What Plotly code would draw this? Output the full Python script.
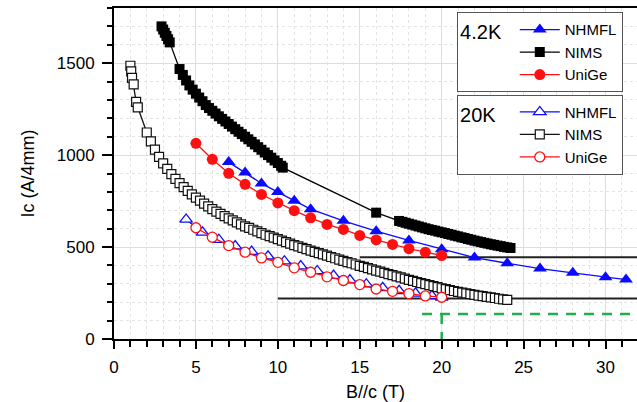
import plotly.graph_objects as go

# ---------------- data ----------------
# 4.2 K
nhmfl42_B = [7, 8, 9, 10, 11, 12, 14, 16, 18, 20, 22, 24, 26, 28, 30, 31.25]
nhmfl42_Ic = [962, 905, 846, 799, 752, 706, 643, 586, 536, 488, 443, 412, 383, 360, 336, 323]

nims42_B = [2.9, 3.0, 3.1, 3.2, 3.3, 3.4,
            4.0, 4.2, 4.4, 4.6, 4.8, 5.0, 5.2, 5.4, 5.6, 5.8, 6.0, 6.2, 6.4, 6.6, 6.8,
            7.0, 7.2, 7.4, 7.6, 7.8, 8.0, 8.2, 8.4, 8.6, 8.8, 9.0, 9.2, 9.4, 9.6, 9.8,
            10.0, 10.2, 10.3,
            16.0,
            17.4, 17.6, 17.8, 18.0, 18.2, 18.4, 18.6, 18.8, 19.0, 19.2, 19.4, 19.6, 19.8,
            20.0, 20.2, 20.4, 20.6, 20.8, 21.0, 21.2, 21.4, 21.6, 21.8, 22.0, 22.2, 22.4,
            22.6, 22.8, 23.0, 23.2, 23.4, 23.6, 23.8, 24.0, 24.2]
nims42_Ic = [1700, 1683, 1665, 1648, 1630, 1613,
             1468, 1436, 1406, 1379, 1356, 1334, 1313, 1293, 1272, 1256, 1241, 1226, 1211, 1197, 1183,
             1169, 1155, 1141, 1127, 1114, 1100, 1086, 1072, 1058, 1043, 1029, 1014, 1000, 986, 971,
             957, 942, 932,
             687,
             642, 637, 632, 627, 622, 617, 612, 607, 602, 597, 593, 589, 584,
             580, 576, 571, 567, 562, 558, 553, 549, 544, 540, 535, 531, 527,
             523, 519, 515, 512, 508, 505, 501, 498, 495]

unige42_B = [5, 6, 7, 8, 9, 10, 11, 12, 13, 14, 15, 16, 17, 18, 19, 20]
unige42_Ic = [1064, 977, 901, 841, 786, 740, 698, 659, 623, 596, 563, 539, 514, 491, 472, 454]

# 20 K
nhmfl20_B = [4.4, 5.4, 6.4, 7.4, 8.4, 9.4, 10.4, 11.4, 12.4, 13.4, 14.4, 15.4, 16.4, 17.4, 18.4, 19.4, 20.0]
nhmfl20_Ic = [650, 580, 540, 505, 475, 450, 423, 396, 370, 345, 320, 298, 278, 262, 248, 235, 226]

nims20_B = [1.0, 1.05, 1.1, 1.2, 1.35, 1.45,
            2.0, 2.25, 2.5, 2.75, 3.0, 3.25, 3.5, 3.75, 4.0, 4.25, 4.5, 4.75, 5.0, 5.25,
            5.5, 5.75, 6.0, 6.25, 6.5, 6.75, 7.0, 7.25, 7.5, 7.75, 8.0, 8.25, 8.5, 8.75,
            9.0, 9.25, 9.5, 9.75, 10.0, 10.25, 10.5, 10.75, 11.0, 11.25, 11.5, 11.75,
            12.0, 12.25, 12.5, 12.75, 13.0, 13.25, 13.5, 13.75, 14.0, 14.25, 14.5, 14.75,
            15.0, 15.25, 15.5, 15.75, 16.0, 16.25, 16.5, 16.75, 17.0, 17.25, 17.5, 17.75,
            18.0, 18.25, 18.5, 18.75, 19.0, 19.25, 19.5, 19.75, 20.0, 20.25, 20.5, 20.75,
            21.0, 21.25, 21.5, 21.75, 22.0, 22.25, 22.5, 22.75, 23.0, 23.25, 23.5, 23.75, 24.0]
nims20_Ic = [1486, 1455, 1420, 1385, 1290, 1260,
             1123, 1075, 1030, 990, 955, 925, 897, 871, 848, 826, 806, 787, 769, 752,
             736, 721, 706, 693, 680, 668, 656, 645, 634, 623, 613, 604, 594, 585,
             576, 567, 559, 551, 543, 535, 527, 519, 511, 504, 496, 489,
             481, 474, 467, 460, 453, 446, 439, 432, 425, 418, 412, 405,
             398, 392, 385, 379, 372, 366, 360, 353, 347, 341, 335, 328,
             322, 316, 310, 304, 298, 293, 287, 282, 276, 271, 266, 261,
             256, 252, 248, 244, 240, 236, 233, 229, 226, 223, 219, 216, 213]

unige20_B = [5, 6, 7, 8, 9, 10, 11, 12, 13, 14, 15, 16, 17, 18, 19, 20]
unige20_Ic = [605, 554, 508, 472, 441, 417, 387, 363, 338, 318, 296, 272, 259, 247, 234, 227]

# reference levels
level_B_start = [15, 10]
level_Ic = [445, 220]
spec_B = 20
spec_B_start = 18.8
spec_Ic = 136

x_max = 31.92
y_max = 1800

# ---------------- figure ----------------
FONT = "Arial, Liberation Sans, sans-serif"
BLUE = "#0a0aff"
RED = "#ff1010"
BLACK = "#000000"
GREEN = "#1fae50"

fig = go.Figure()

# black horizontal reference lines
for b0, ic in zip(level_B_start, level_Ic):
    fig.add_trace(go.Scatter(x=[b0, x_max + 5], y=[ic, ic], mode="lines",
                             line=dict(color="#222222", width=2), showlegend=False,
                             hoverinfo="skip"))
# green dashed lines
fig.add_trace(go.Scatter(x=[spec_B_start, x_max + 5, None, spec_B, spec_B],
                         y=[spec_Ic, spec_Ic, None, spec_Ic, 0], mode="lines",
                         line=dict(color=GREEN, width=2.5, dash="10px,8px"),
                         showlegend=False, hoverinfo="skip"))

# 20 K series (open symbols)
fig.add_trace(go.Scatter(x=nhmfl20_B, y=nhmfl20_Ic, name="NHMFL", mode="lines+markers",
                         line=dict(color=BLUE, width=1.3),
                         marker=dict(symbol="triangle-up", size=11, color="white",
                                     line=dict(color=BLUE, width=1.3)),
                         legend="legend2", legendrank=1))
fig.add_trace(go.Scatter(x=nims20_B, y=nims20_Ic, name="NIMS", mode="lines+markers",
                         line=dict(color="#111111", width=1.3),
                         marker=dict(symbol="square", size=9, color="white",
                                     line=dict(color="#111111", width=1.2)),
                         legend="legend2", legendrank=2))
fig.add_trace(go.Scatter(x=unige20_B, y=unige20_Ic, name="UniGe", mode="lines+markers",
                         line=dict(color=RED, width=1.3),
                         marker=dict(symbol="circle", size=10, color="white",
                                     line=dict(color=RED, width=1.3)),
                         legend="legend2", legendrank=3))

# 4.2 K series (filled symbols)
fig.add_trace(go.Scatter(x=nhmfl42_B, y=nhmfl42_Ic, name="NHMFL", mode="lines+markers",
                         line=dict(color=BLUE, width=1.3),
                         marker=dict(symbol="triangle-up", size=12, color=BLUE),
                         legend="legend", legendrank=1))
fig.add_trace(go.Scatter(x=nims42_B, y=nims42_Ic, name="NIMS", mode="lines+markers",
                         line=dict(color=BLACK, width=1.3),
                         marker=dict(symbol="square", size=10, color=BLACK),
                         legend="legend", legendrank=2))
fig.add_trace(go.Scatter(x=unige42_B, y=unige42_Ic, name="UniGe", mode="lines+markers",
                         line=dict(color=RED, width=1.3),
                         marker=dict(symbol="circle", size=11, color=RED),
                         legend="legend", legendrank=3))

legend_common = dict(
    bgcolor="white", bordercolor="#555555", borderwidth=1,
    font=dict(family=FONT, size=15, color="black"),
    xanchor="left", yanchor="top", itemwidth=40, tracegroupgap=0,
)

fig.update_layout(
    width=637, height=402,
    margin=dict(l=114, r=0, t=8, b=63, autoexpand=False),
    paper_bgcolor="white", plot_bgcolor="white",
    font=dict(family=FONT, size=17, color="black"),
    legend=dict(x=0.656, y=0.987,
                title=dict(text="4.2K\u00a0", side="left",
                           font=dict(family=FONT, size=20)),
                **legend_common),
    legend2=dict(x=0.656, y=0.738,
                 title=dict(text="20K\u00a0\u00a0", side="left",
                            font=dict(family=FONT, size=20)),
                 **legend_common),
    xaxis=dict(
        range=[0, x_max], tickmode="linear", tick0=0, dtick=5, automargin=False,
        showline=True, linecolor="black", linewidth=2, mirror=True,
        ticks="outside", ticklen=8, tickwidth=1.5, tickcolor="black",
        ticklabelstandoff=4,
        showgrid=True, gridcolor="#dddddd", gridwidth=1,
        minor=dict(dtick=1, ticks="outside", ticklen=6, tickwidth=1.5, tickcolor="black",
                   showgrid=True, gridcolor="#e4e4e4", griddash="dot", gridwidth=1),
        zeroline=False,
        title=dict(text="B//c (T)", standoff=10, font=dict(size=18)),
    ),
    yaxis=dict(
        range=[0, y_max], tickmode="array", tickvals=[0, 500, 1000, 1500], automargin=False,
        showline=True, linecolor="black", linewidth=2,
        ticks="outside", ticklen=10, tickwidth=1.5, tickcolor="black",
        ticklabelstandoff=4,
        showgrid=True, gridcolor="#dddddd", gridwidth=1,
        minor=dict(dtick=100, ticks="outside", ticklen=5, tickwidth=1.5, tickcolor="black",
                   showgrid=True, gridcolor="#e4e4e4", griddash="dot", gridwidth=1),
        zeroline=False,
        title=dict(text="Ic (A/4mm)", standoff=17, font=dict(size=18)),
    ),
)

fig.write_html("out.html", config={"displayModeBar": False},
               post_script="document.body.style.margin='0';document.body.style.padding='0';"
                           "document.body.style.overflow='hidden';")
